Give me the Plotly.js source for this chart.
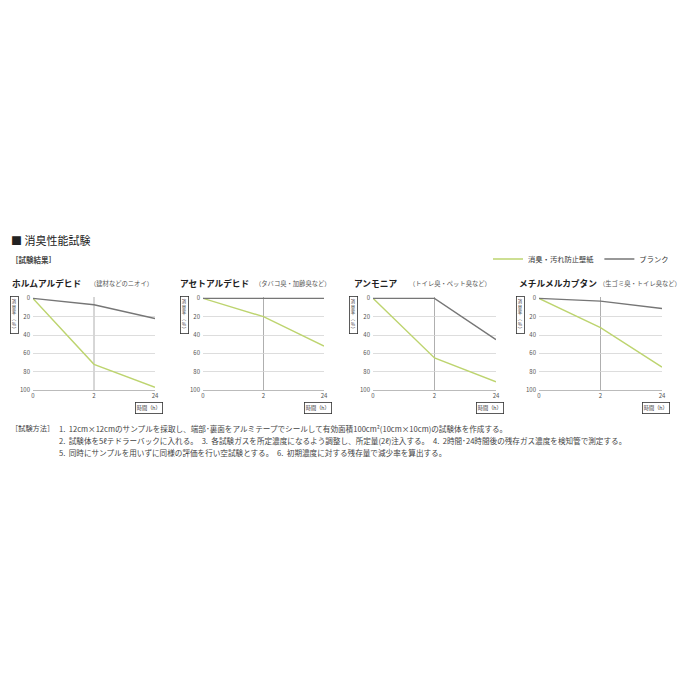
<!DOCTYPE html>
<html>
<head>
<meta charset="utf-8">
<script src="https://cdn.plot.ly/plotly-3.0.1.min.js"></script>
<style>
  html, body { margin: 0; padding: 0; background: #fff; }
  #chart { width: 700px; height: 700px; }
</style>
</head>
<body>
<div id="chart"></div>
<script>
// time points (h), drawn evenly spaced
var times = ['0', '2', '24'];

// panel titles
var gases = ['ホルムアルデヒド', 'アセトアルデヒド', 'アンモニア', 'メチルメルカプタン'];
var gasNotes = ['（建材などのニオイ）', '（タバコ臭・加齢臭など）', '（トイレ臭・ペット臭など）', '（生ゴミ臭・トイレ臭など）'];

// deodorization rate (%)
var wallpaper = [
  [0, 72, 97],
  [0, 20, 52],
  [0, 65, 91],
  [0, 32, 75]
];
var blank = [
  [0, 7, 22],
  [0, 0, 0],
  [0, 0, 45],
  [0, 3, 11]
];

var seriesNames = ['消臭・汚れ防止壁紙', 'ブランク'];
var yTicks = [0, 20, 40, 60, 80, 100];

var notes = [
  '1.  12cm×12cmのサンプルを採取し、端部･裏面をアルミテープでシールして有効面積100cm²(10cm×10cm)の試験体を作成する。',
  '2.  試験体を5ℓテドラーバックに入れる。　3.  各試験ガスを所定濃度になるよう調整し、所定量(2ℓ)注入する。　4.  2時間･24時間後の残存ガス濃度を検知管で測定する。',
  '5.  同時にサンプルを用いずに同様の評価を行い空試験とする。　6.  初期濃度に対する残存量で減少率を算出する。'
];

var GREEN = '#bdd46f';
var GRAY = '#767676';
var FONT = '"Noto Sans CJK JP", "Noto Sans", sans-serif';

// pixel helpers (page is 700 x 700)
function px(x) { return x / 700; }
function py(y) { return 1 - y / 700; }

// left / right edge of each plot area, in pixels
var panelLeft = [33, 203, 373, 539];
var panelRight = [155, 324, 496, 662];
var plotTop = 297, plotBottom = 390;

var data = [];
var layout = {
  width: 700,
  height: 700,
  margin: {l: 0, r: 0, t: 0, b: 0},
  paper_bgcolor: '#fff',
  plot_bgcolor: '#fff',
  font: {family: FONT, color: '#444', size: 6},
  showlegend: true,
  legend: {
    orientation: 'h',
    x: px(674), xanchor: 'right',
    y: py(259), yanchor: 'middle',
    font: {size: 7.3, color: '#333'},
    bgcolor: 'rgba(0,0,0,0)',
    itemwidth: 30
  },
  annotations: [],
  shapes: []
};

for (var i = 0; i < gases.length; i++) {
  var n = i === 0 ? '' : String(i + 1);
  var xa = 'x' + n, ya = 'y' + n;

  data.push({
    x: times, y: wallpaper[i], xaxis: xa, yaxis: ya,
    type: 'scatter', mode: 'lines', name: seriesNames[0],
    legendgroup: 'a', showlegend: i === 0,
    line: {color: GREEN, width: 1.4}
  });
  data.push({
    x: times, y: blank[i], xaxis: xa, yaxis: ya,
    type: 'scatter', mode: 'lines', name: seriesNames[1],
    legendgroup: 'b', showlegend: i === 0,
    line: {color: GRAY, width: 1.4}
  });

  layout['xaxis' + n] = {
    domain: [px(panelLeft[i]), px(panelRight[i])],
    anchor: ya,
    type: 'category',
    range: [0, 2],
    showgrid: false,
    zeroline: false,
    showline: true,
    linecolor: '#bbbbbb',
    linewidth: 1,
    ticks: '',
    tickfont: {size: 6, color: '#555'},
    fixedrange: true
  };
  layout['yaxis' + n] = {
    domain: [py(plotBottom), py(plotTop)],
    anchor: xa,
    range: [100, -1.5],
    tickvals: yTicks,
    showgrid: false,
    minor: {tickvals: [20, 40, 60, 80], showgrid: true, gridcolor: '#d4d4d4', gridwidth: 0.8, ticks: ''},
    zeroline: false,
    showline: false,
    ticks: '',
    ticklabelstandoff: 2,
    tickfont: {size: 6, color: '#555'},
    fixedrange: true
  };

  // vertical line at the 2 h mark
  layout.shapes.push({
    type: 'line', xref: xa, yref: ya + ' domain',
    x0: 1, x1: 1, y0: 0, y1: 1,
    line: {color: '#9a9a9a', width: 0.8},
    layer: 'below'
  });

  // panel title and note
  var leftShift = [23, 25, 21, 22][i];
  var noteX = [88, 253, 407, 597][i];
  layout.annotations.push({
    xref: 'paper', yref: 'paper',
    x: px(panelLeft[i] - leftShift), y: py(283),
    xanchor: 'left', yanchor: 'middle', showarrow: false,
    text: '<b>' + gases[i] + '</b>',
    font: {size: 8.7, color: '#222'}
  });
  layout.annotations.push({
    xref: 'paper', yref: 'paper',
    x: px(noteX), y: py(283),
    xanchor: 'left', yanchor: 'middle', showarrow: false,
    text: gasNotes[i],
    font: {size: 6.3, color: '#555'}
  });

  // y label box
  layout.annotations.push({
    xref: 'paper', yref: 'paper',
    x: px(panelLeft[i] - 19), y: py(296),
    xanchor: 'center', yanchor: 'top', showarrow: false,
    text: '消<br>臭<br>率<br>︵<br>%<br>︶',
    font: {size: 4.4, color: '#333'},
    bordercolor: '#333', borderwidth: 0.8, borderpad: 1
  });
  // x label box
  layout.annotations.push({
    xref: 'paper', yref: 'paper',
    x: px(panelRight[i] - 6), y: py(408.5),
    xanchor: 'center', yanchor: 'middle', showarrow: false,
    text: '時間（h）',
    font: {size: 5.2, color: '#333'},
    bordercolor: '#333', borderwidth: 0.8, borderpad: 1
  });
}

// headings
layout.annotations.push({
  xref: 'paper', yref: 'paper', x: px(9), y: py(240),
  xanchor: 'left', yanchor: 'middle', showarrow: false,
  text: '■ 消臭性能試験', font: {size: 11, color: '#222'}
});
layout.annotations.push({
  xref: 'paper', yref: 'paper', x: px(9), y: py(259),
  xanchor: 'left', yanchor: 'middle', showarrow: false,
  text: '<b>［試験結果］</b>', font: {size: 7.5, color: '#444'}
});

// test method notes
layout.annotations.push({
  xref: 'paper', yref: 'paper', x: px(9), y: py(428),
  xanchor: 'left', yanchor: 'middle', showarrow: false,
  text: '［試験方法］', font: {size: 7.2, color: '#444'}
});
for (var k = 0; k < notes.length; k++) {
  layout.annotations.push({
    xref: 'paper', yref: 'paper', x: px(57), y: py(428 + k * 12),
    xanchor: 'left', yanchor: 'middle', showarrow: false,
    text: notes[k], font: {size: 7.6, color: '#444'}
  });
}

Plotly.newPlot('chart', data, layout, {displayModeBar: false, staticPlot: true});
</script>
</body>
</html>
